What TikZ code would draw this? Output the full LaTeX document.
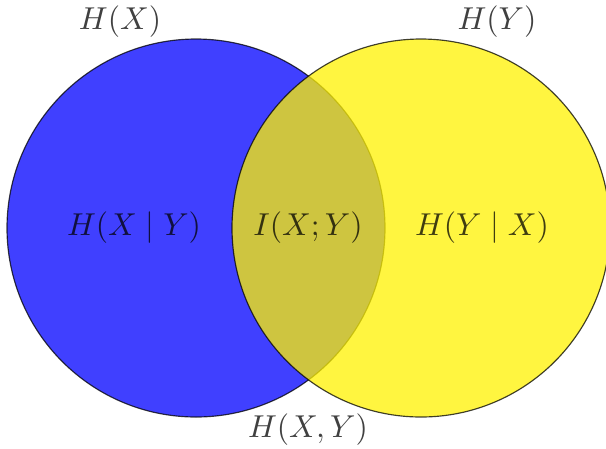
\documentclass[tikz,border=0pt]{standalone}
\usepackage{amssymb,amsmath}
\usepackage{tikz}

\begin{document}
\begin{tikzpicture}[
x=0.346pt, y=-0.346pt, % one unit per pixel of the reference, y downwards
set/.style={circle, draw=black, opacity=0.75, minimum size=378*0.346pt, inner sep=0pt},
every node/.style={text opacity=0.75, font=\fontsize{10.75}{13}\selectfont}
]

\useasboundingbox (0,0) rectangle (606,448);

% ================= Sets =================
\node[set, fill=blue] (SX) at (196,228) {};
\node[set, fill=yellow] (SY) at (421,228) {};

% ================= Labels =================
% Outer labels
\node (HX) at (120,22) {$H(X)$};
\node (HY) at (497,22) {$H(Y)$};
\node (HXY) at (308,430) {$H(X,Y)$};

% Inner regions
\node (HXgY) at (134,228) {$H(X\mid Y)$};
\node (IXY) at (308,228) {$I(X;Y)$};
\node (HYgX) at (482,228) {$H(Y\mid X)$};

\end{tikzpicture}
\end{document}
